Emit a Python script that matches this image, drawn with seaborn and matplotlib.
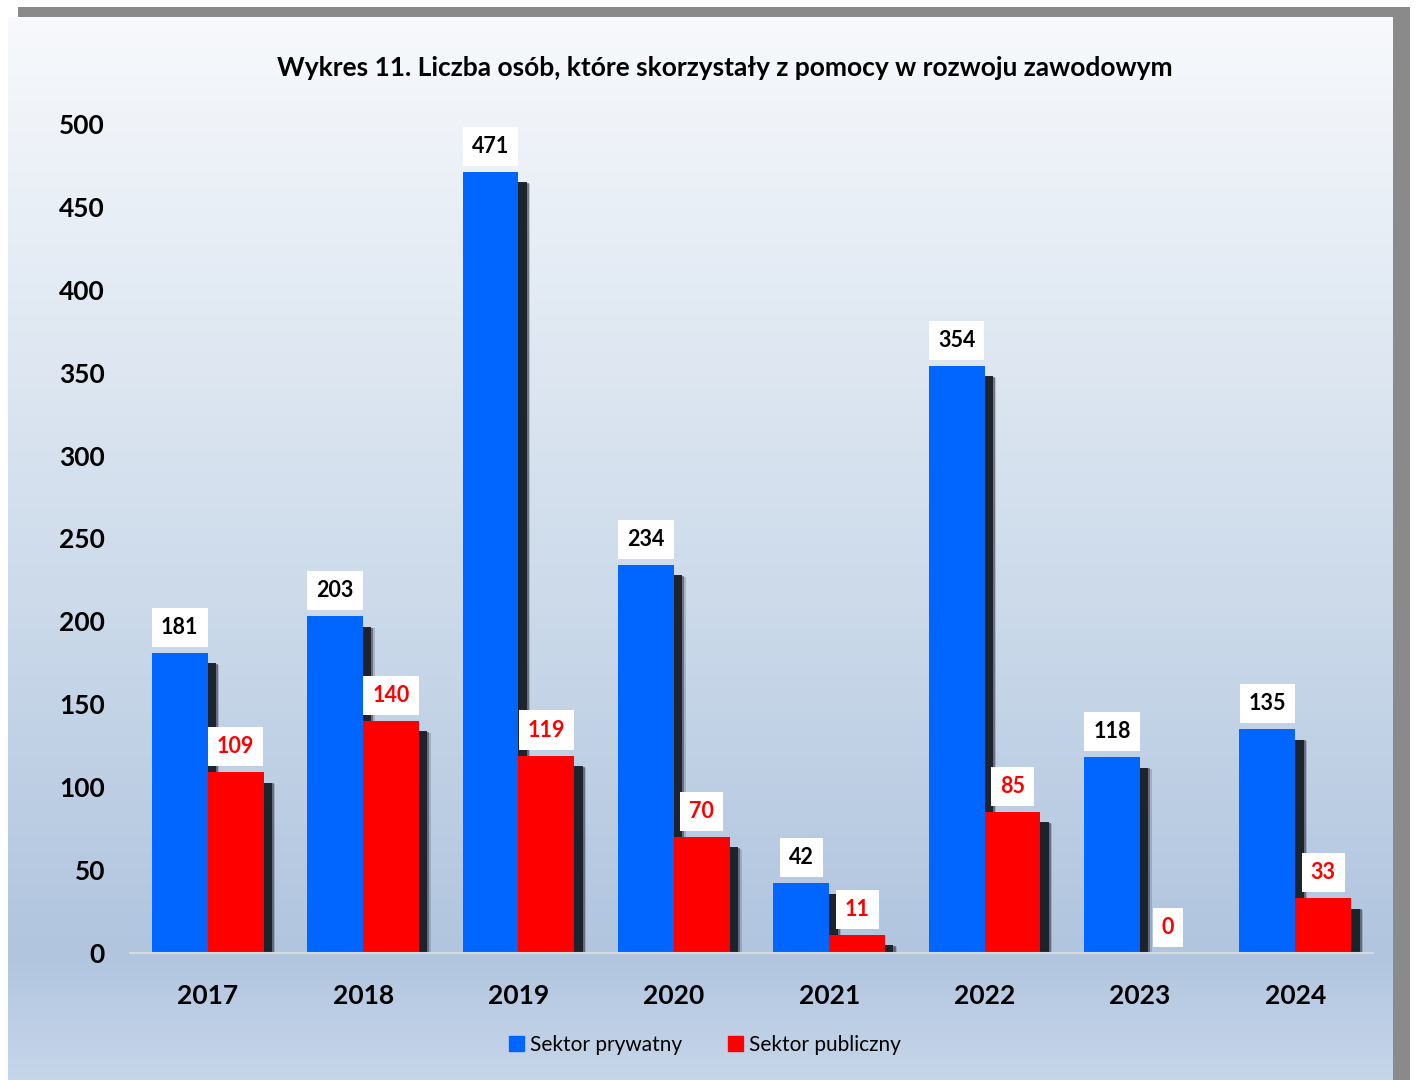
import numpy as np
import pandas as pd
import matplotlib.pyplot as plt
import matplotlib.patheffects as pe
from matplotlib.colors import LinearSegmentedColormap
from matplotlib.patches import Rectangle
import seaborn as sns

# data
years = ['2017', '2018', '2019', '2020', '2021', '2022', '2023', '2024']
prywatny = [181, 203, 471, 234, 42, 354, 118, 135]
publiczny = [109, 140, 119, 70, 11, 85, 0, 33]
sectors = ['Sektor prywatny', 'Sektor publiczny']
colors = ['#0066FF', '#FF0000']
title = 'Wykres 11. Liczba osób, które skorzystały z pomocy w rozwoju zawodowym'

df = pd.DataFrame({
    'Rok': years * 2,
    'Liczba': prywatny + publiczny,
    'Sektor': [sectors[0]] * len(years) + [sectors[1]] * len(years),
})

sns.set_style('white')
plt.rcParams['font.family'] = ['Lato', 'DejaVu Sans']
plt.rcParams['text.color'] = 'black'
plt.rcParams['xtick.color'] = 'black'
plt.rcParams['ytick.color'] = 'black'

fig = plt.figure(figsize=(14.16, 10.8), dpi=100, facecolor='white')
W, H = 1416, 1080

# frame shadow + gradient background
shadow_ax = fig.add_axes([18 / W, 0, (1410 - 18) / W, 1 - 7 / H], zorder=-2)
shadow_ax.set_facecolor('#8a8a8a')
shadow_ax.set_xticks([])
shadow_ax.set_yticks([])
for s in shadow_ax.spines.values():
    s.set_visible(False)

bg = fig.add_axes([8 / W, 0, (1393 - 8) / W, 1 - 17 / H], zorder=-1)
cmap = LinearSegmentedColormap.from_list(
    'bg', [(0, '#C6D6EA'), (0.12, '#B1C5DF'), (0.45, '#CCDAEA'), (1, '#F7F9FC')])
bg.imshow(np.linspace(0, 1, 256).reshape(-1, 1), aspect='auto', cmap=cmap,
          origin='lower', extent=[0, 1, 0, 1])
bg.set_axis_off()

ax = fig.add_axes([130 / W, 1 - 953 / H, (1373 - 130) / W, (953 - 124) / H], zorder=1)
ax.patch.set_alpha(0)
sns.barplot(data=df, x='Rok', y='Liczba', hue='Sektor', palette=colors,
            saturation=1, width=0.72, ax=ax, legend=False)

# soft-ish drop shadow built from a few offset copies
shadow = [pe.SimplePatchShadow(offset=(8.5, -8.5), shadow_rgbFace='#4a5364', alpha=0.25),
          pe.SimplePatchShadow(offset=(7.5, -8), shadow_rgbFace='#2a303c', alpha=0.5),
          pe.SimplePatchShadow(offset=(6, -7.5), shadow_rgbFace='#1a1f29', alpha=0.95),
          pe.Normal()]
for container, col in zip(ax.containers, ['black', 'red']):
    for bar in container:
        bar.set_path_effects(shadow)
        bar.set_edgecolor('none')
        ax.annotate(f'{int(bar.get_height())}',
                    (bar.get_x() + bar.get_width() / 2, bar.get_height()),
                    xytext=(0, 18.5), textcoords='offset points',
                    ha='center', va='center', fontsize=15.5, fontweight='bold',
                    color=col, zorder=5,
                    bbox=dict(boxstyle='square,pad=0.42', fc='white', ec='none'))

ax.set_ylim(0, 500)
ax.set_yticks(range(0, 501, 50))
ax.set_xlabel('')
ax.set_ylabel('')
ax.tick_params(axis='y', length=0, pad=18, labelsize=19)
ax.tick_params(axis='x', length=0, pad=22, labelsize=19)
for lab in ax.get_xticklabels() + ax.get_yticklabels():
    lab.set_fontweight('bold')
sns.despine(ax=ax, left=True, top=True, right=True)
ax.spines['bottom'].set_color('#d9d9d9')
ax.spines['bottom'].set_linewidth(1.5)

fig.text(725 / W, 1 - 68 / H, title, ha='center', va='center',
         fontsize=19, fontweight='bold')

handles = [Rectangle((0, 0), 1, 1, color=c) for c in colors]
fig.legend(handles, sectors, loc='center', bbox_to_anchor=(705 / W, 1 - 1045 / H),
           ncol=2, frameon=False, fontsize=15, handlelength=0.7, handleheight=0.7,
           handletextpad=0.3, columnspacing=2.2)

fig.savefig('out.png', dpi=100, facecolor='white')
